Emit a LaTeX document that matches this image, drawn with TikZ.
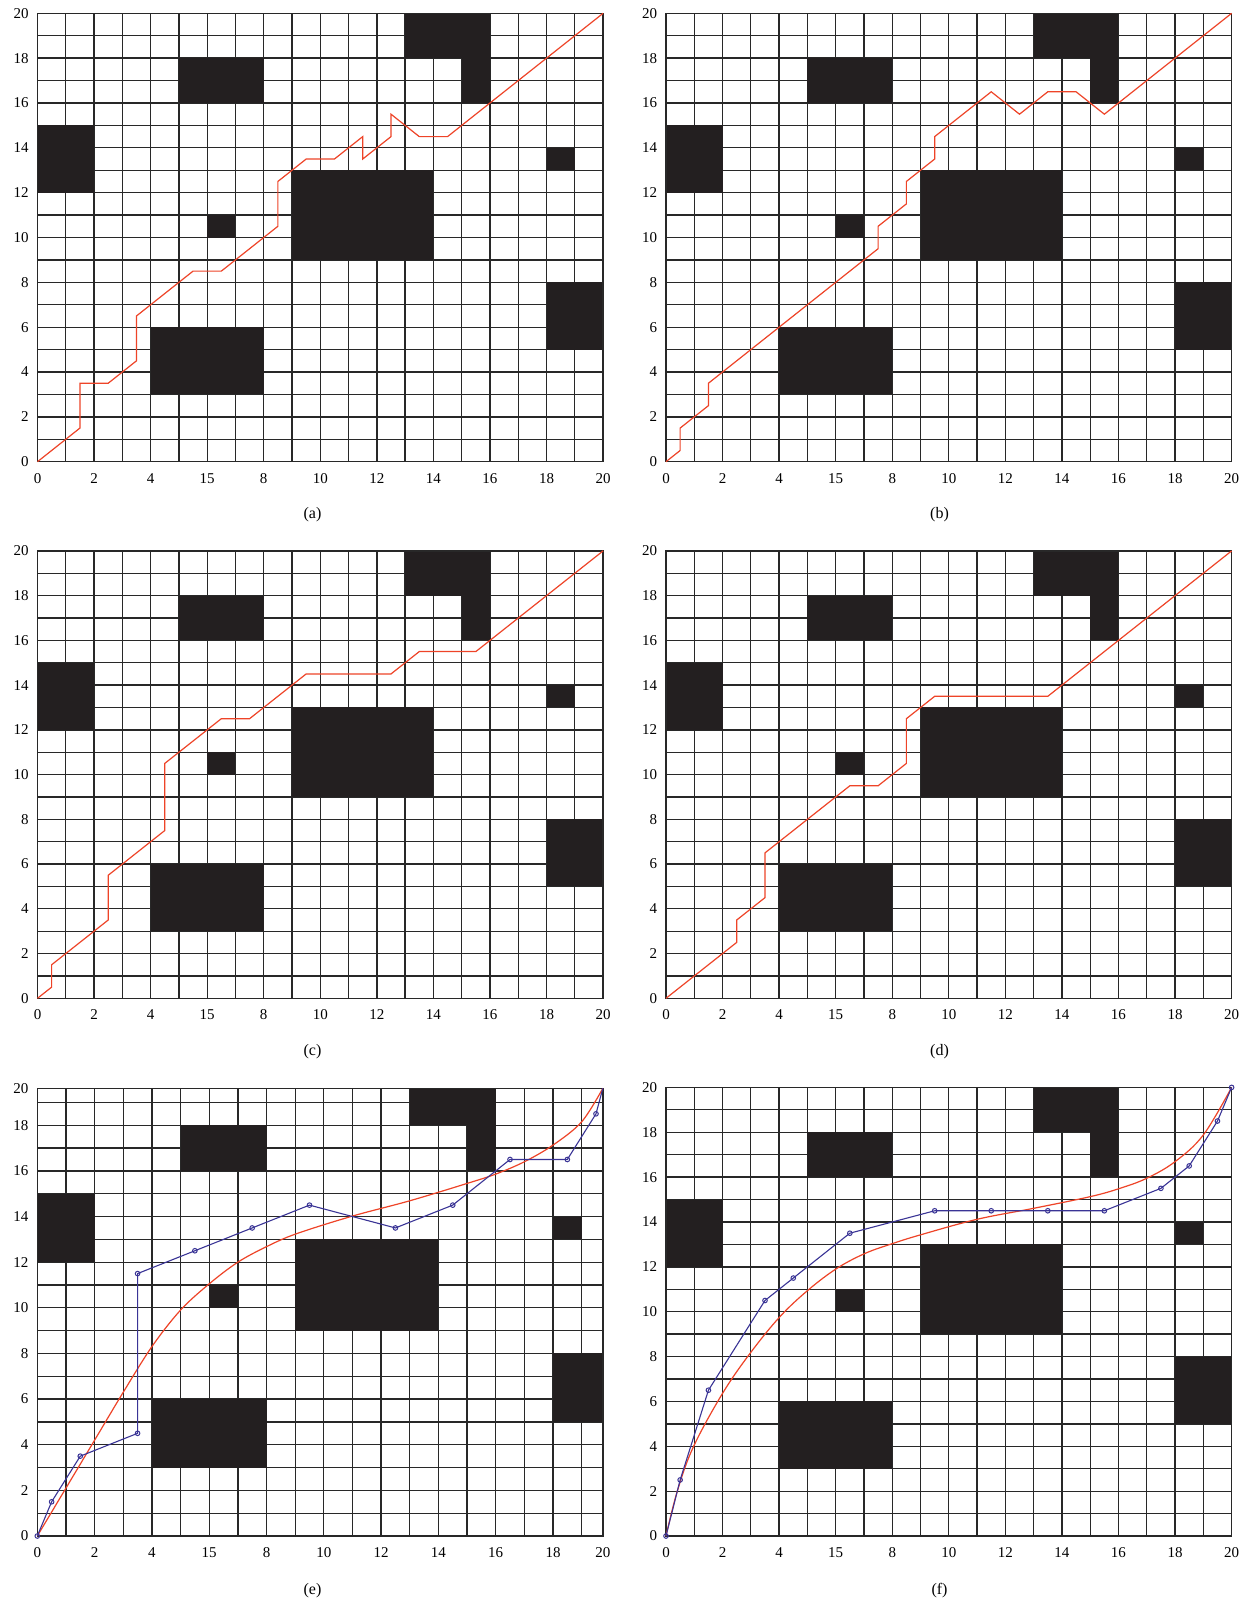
\documentclass[tikz,border=0pt]{standalone}
\usepackage{fontspec}
\setmainfont{Liberation Serif}
\definecolor{obst}{RGB}{35,31,32}
\definecolor{gridc}{RGB}{40,40,40}
\definecolor{pathred}{RGB}{238,68,40}
\definecolor{pathblue}{RGB}{58,52,150}
\tikzset{
  gridline/.style={gridc, line width=0.65pt},
  obstacle/.style={fill=obst, draw=none},
  redpath/.style={pathred, line width=0.6pt, line join=miter},
  bluepath/.style={pathblue, line width=0.55pt},
  markerring/.style={pathblue, line width=0.5pt},
  ticklab/.style={font=\fontsize{7.5}{9}\selectfont, inner sep=0pt},
  caplab/.style={font=\fontsize{8}{10}\selectfont, inner sep=0pt},
}
\newcommand{\gridpanel}[3]{%
  \foreach \i in {1,...,19} {
    \draw[gridline] (\i,0) -- (\i,#2);
    \draw[gridline] (0,\i) -- (#1,\i);
  }
  \fill[obstacle] (0,12) rectangle (2,15);
  \fill[obstacle] (5,16) rectangle (8,18);
  \fill[obstacle] (13,18) rectangle (16,#2);
  \fill[obstacle] (15,16) rectangle (16,18);
  \fill[obstacle] (6,10) rectangle (7,11);
  \fill[obstacle] (9,9) rectangle (14,13);
  \fill[obstacle] (18,13) rectangle (19,14);
  \fill[obstacle] (18,5) rectangle (#1,8);
  \fill[obstacle] (4,3) rectangle (8,6);
  \draw[gridline] (0,0) rectangle (#1,#2);
  \foreach \v/\t in {0/0,2/2,4/4,6/15,8/8,10/10,12/12,14/14,16/16,18/18}
    \node[ticklab, yshift=-8.25pt] (#3x\v) at (\v,0) {\t};
  \node[ticklab, yshift=-8.25pt] (#3x20) at (#1,0) {20};
  \foreach \v in {0,2,...,18}
    \node[ticklab, anchor=east, xshift=-4.3pt] (#3y\v) at (0,\v) {\v};
  \node[ticklab, anchor=east, xshift=-4.3pt] (#3y20) at (0,#2) {20};
}
\begin{document}
\begin{tikzpicture}
\useasboundingbox[fill=white] (0,0) rectangle (626pt,-803pt);

% (a)
\begin{scope}[shift={(18.75pt,-230.85pt)}, x=14.14pt, y=11.21pt]
  \gridpanel{20}{20}{a}
  \draw[redpath] (0,0) -- (1.5,1.5) -- (1.5,3.5) -- (2.5,3.5) -- (3.5,4.5) -- (3.5,6.5) -- (5.5,8.5) -- (6.5,8.5) -- (8.5,10.5) -- (8.5,12.5) -- (9.5,13.5) -- (10.5,13.5) -- (11.5,14.5) -- (11.5,13.5) -- (12.5,14.5) -- (12.5,15.5) -- (13.5,14.5) -- (14.5,14.5) -- (20,20);
\end{scope}
\node[caplab] (capa) at (156.25pt,-257.5pt) {(a)};

% (b)
\begin{scope}[shift={(333pt,-230.85pt)}, x=14.14pt, y=11.21pt]
  \gridpanel{20}{20}{b}
  \draw[redpath] (0,0) -- (0.5,0.5) -- (0.5,1.5) -- (1.5,2.5) -- (1.5,3.5) -- (7.5,9.5) -- (7.5,10.5) -- (8.5,11.5) -- (8.5,12.5) -- (9.5,13.5) -- (9.5,14.5) -- (11.5,16.5) -- (12.5,15.5) -- (13.5,16.5) -- (14.5,16.5) -- (15.5,15.5) -- (20,20);
\end{scope}
\node[caplab] (capb) at (469.75pt,-257.5pt) {(b)};

% (c)
\begin{scope}[shift={(18.75pt,-499.15pt)}, x=14.14pt, y=11.185pt]
  \gridpanel{20}{20}{c}
  \draw[redpath] (0,0) -- (0.5,0.5) -- (0.5,1.5) -- (2.5,3.5) -- (2.5,5.5) -- (4.5,7.5) -- (4.5,10.5) -- (6.5,12.5) -- (7.5,12.5) -- (9.5,14.5) -- (12.5,14.5) -- (13.5,15.5) -- (15.5,15.5) -- (20,20);
\end{scope}
\node[caplab] (capc) at (156.25pt,-526pt) {(c)};

% (d)
\begin{scope}[shift={(333pt,-499.15pt)}, x=14.14pt, y=11.185pt]
  \gridpanel{20}{20}{d}
  \draw[redpath] (0,0) -- (2.5,2.5) -- (2.5,3.5) -- (3.5,4.5) -- (3.5,6.5) -- (6.5,9.5) -- (7.5,9.5) -- (8.5,10.5) -- (8.5,12.5) -- (9.5,13.5) -- (13.5,13.5) -- (20,20);
\end{scope}
\node[caplab] (capd) at (469.75pt,-526pt) {(d)};

% (e)
\begin{scope}[shift={(18.65pt,-768pt)}, x=14.325pt, y=11.41pt]
  \gridpanel{19.74}{19.62}{e}
  \draw[redpath] plot[smooth, tension=0.55] coordinates {(0,0) (1,2.1) (2,4.2) (3,6.3) (4,8.3) (5,9.9) (6,11.05) (7,12.0) (8,12.68) (9.03,13.24) (11,14.02) (13,14.69) (15,15.45) (16,15.86) (17,16.4) (18,17.13) (19,18.15) (19.74,19.62)};
  \draw[bluepath] (0,0) -- (0.5,1.5) -- (1.5,3.5) -- (3.5,4.5) -- (3.5,11.5) -- (5.5,12.5) -- (7.5,13.5) -- (9.5,14.5) -- (12.5,13.5) -- (14.5,14.5) -- (16.5,16.5) -- (18.5,16.5) -- (19.5,18.5) -- (19.74,19.62);
  \foreach \p in {(0,0),(0.5,1.5),(1.5,3.5),(3.5,4.5),(3.5,11.5),(5.5,12.5),(7.5,13.5),(9.5,14.5),(12.5,13.5),(14.5,14.5),(16.5,16.5),(18.5,16.5),(19.5,18.5)}
    \draw[markerring] \p circle[radius=1.15pt];
\end{scope}
\node[caplab] (cape) at (156.25pt,-795.5pt) {(e)};

% (f)
\begin{scope}[shift={(333pt,-768pt)}, x=14.14pt, y=11.215pt]
  \gridpanel{20}{20}{f}
  \draw[redpath] plot[smooth, tension=0.6] coordinates {(0,0) (0.4,2) (0.97,3.98) (2,6.36) (2.97,8.14) (4.03,9.78) (5.03,10.97) (6.04,11.93) (7.04,12.6) (8.04,13.05) (8.98,13.42) (11,14.12) (13,14.61) (15,15.13) (16.05,15.5) (17,15.95) (18,16.69) (19,17.88) (20,20)};
  \draw[bluepath] (0,0) -- (0.5,2.5) -- (1.5,6.5) -- (3.5,10.5) -- (4.5,11.5) -- (6.5,13.5) -- (9.5,14.5) -- (11.5,14.5) -- (13.5,14.5) -- (15.5,14.5) -- (17.5,15.5) -- (18.5,16.5) -- (19.5,18.5) -- (20,20);
  \foreach \p in {(0,0),(0.5,2.5),(1.5,6.5),(3.5,10.5),(4.5,11.5),(6.5,13.5),(9.5,14.5),(11.5,14.5),(13.5,14.5),(15.5,14.5),(17.5,15.5),(18.5,16.5),(19.5,18.5),(20,20)}
    \draw[markerring] \p circle[radius=1.15pt];
\end{scope}
\node[caplab] (capf) at (469.75pt,-795.5pt) {(f)};
\end{tikzpicture}
\end{document}
